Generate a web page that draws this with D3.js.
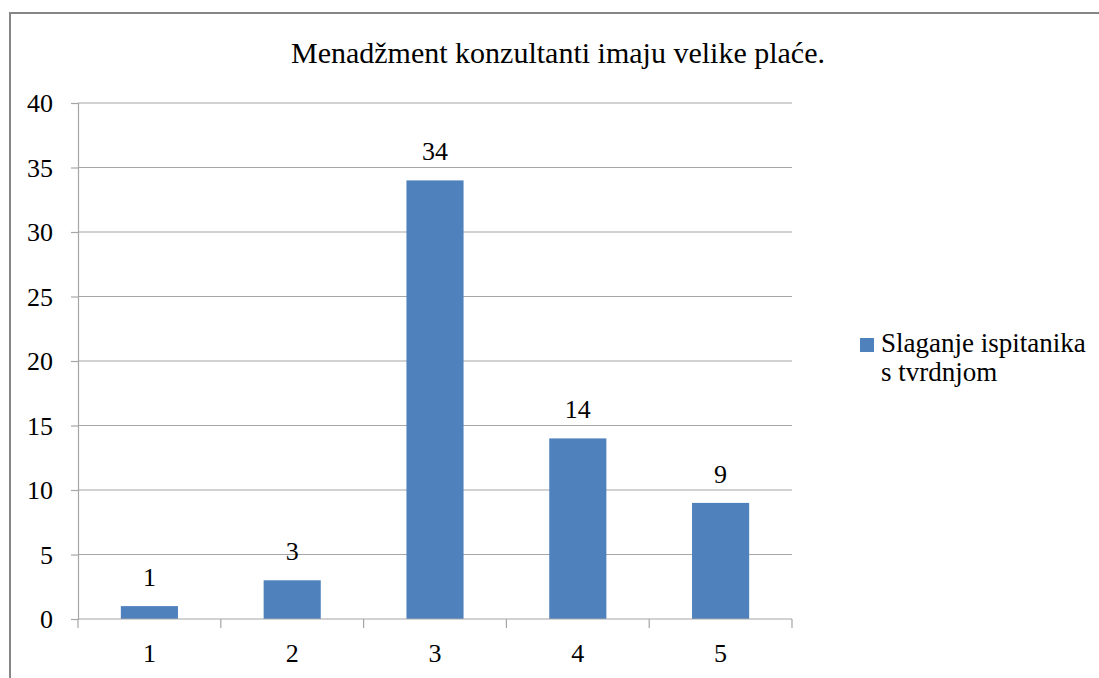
<!DOCTYPE html>
<html>
<head>
<meta charset="utf-8">
<script src="https://cdn.jsdelivr.net/npm/d3@7"></script>
<style>
  body { margin: 0; background: #fff; }
  text { font-family: "Liberation Serif", "Times New Roman", serif; fill: #000; }
</style>
</head>
<body>
<div id="graph"></div>
<script>
var categories = ["1", "2", "3", "4", "5"];
var values = [1, 3, 34, 14, 9];
var yTicks = [0, 5, 10, 15, 20, 25, 30, 35, 40];
var title = "Menadžment konzultanti imaju velike plaće.";
var legendLines = ["Slaganje ispitanika", "s tvrdnjom"];

var width = 1099, height = 678;
var serif = "'Liberation Serif', 'Times New Roman', serif";
var svg = d3.select("#graph").append("svg")
  .attr("width", width).attr("height", height);

// outer chart frame (runs off the right and bottom edge)
svg.append("rect")
  .attr("x", 10).attr("y", 13)
  .attr("width", 1100).attr("height", 700)
  .attr("fill", "none").attr("stroke", "#868686").attr("stroke-width", 2);

var x = d3.scaleBand().domain(categories).range([78, 792])
  .paddingInner(0.6).paddingOuter(0.3);
var y = d3.scaleLinear().domain([0, 40]).range([619, 103]);

// gridlines
svg.append("g").selectAll("line").data(yTicks.slice(1)).join("line")
  .attr("x1", 78).attr("x2", 792)
  .attr("y1", d => y(d)).attr("y2", d => y(d))
  .attr("stroke", "#a6a6a6").attr("stroke-width", 1.2);

// y axis
var yAxis = svg.append("g").attr("transform", "translate(78,0)")
  .call(d3.axisLeft(y).tickValues(yTicks).tickSize(7).tickPadding(18));
yAxis.attr("font-family", null);
yAxis.select(".domain").attr("stroke", "#a6a6a6").attr("stroke-width", 1.2);
yAxis.selectAll(".tick line").attr("stroke", "#a6a6a6").attr("stroke-width", 1.2);
yAxis.selectAll("text").attr("font-size", 26)
  .style("font-family", serif).attr("fill", "#000")
  .attr("dy", "0.34em");

// bars
svg.append("g").selectAll("rect").data(values).join("rect")
  .attr("x", (d, i) => x(categories[i]))
  .attr("width", x.bandwidth())
  .attr("y", d => y(d))
  .attr("height", d => y(0) - y(d))
  .attr("fill", "#4f81bd");

// x axis
var step = x.step();
var boundaries = d3.range(categories.length + 1).map(i => 78 + i * step);
svg.append("line").attr("x1", 78).attr("x2", 792)
  .attr("y1", y(0)).attr("y2", y(0))
  .attr("stroke", "#a6a6a6").attr("stroke-width", 1.2);
svg.append("g").selectAll("line").data(boundaries).join("line")
  .attr("x1", d => d).attr("x2", d => d)
  .attr("y1", y(0)).attr("y2", y(0) + 9)
  .attr("stroke", "#a6a6a6").attr("stroke-width", 1.2);
svg.append("g").selectAll("text").data(categories).join("text")
  .attr("x", d => x(d) + x.bandwidth() / 2)
  .attr("y", 662)
  .attr("text-anchor", "middle").attr("font-size", 26)
  .style("font-family", serif)
  .text(d => d);

// value labels
svg.append("g").selectAll("text").data(values).join("text")
  .attr("x", (d, i) => x(categories[i]) + x.bandwidth() / 2)
  .attr("y", d => y(d) - 20)
  .attr("text-anchor", "middle").attr("font-size", 26)
  .style("font-family", serif)
  .text(d => d);

// title
svg.append("text").attr("x", 558).attr("y", 63)
  .attr("text-anchor", "middle").attr("font-size", 30)
  .style("font-family", serif)
  .text(title);

// legend
svg.append("rect").attr("x", 860).attr("y", 338)
  .attr("width", 14).attr("height", 14).attr("fill", "#4f81bd");
svg.append("g").selectAll("text").data(legendLines).join("text")
  .attr("x", 881)
  .attr("y", (d, i) => 352 + i * 29)
  .attr("font-size", 27)
  .style("font-family", serif)
  .text(d => d);
</script>
</body>
</html>
